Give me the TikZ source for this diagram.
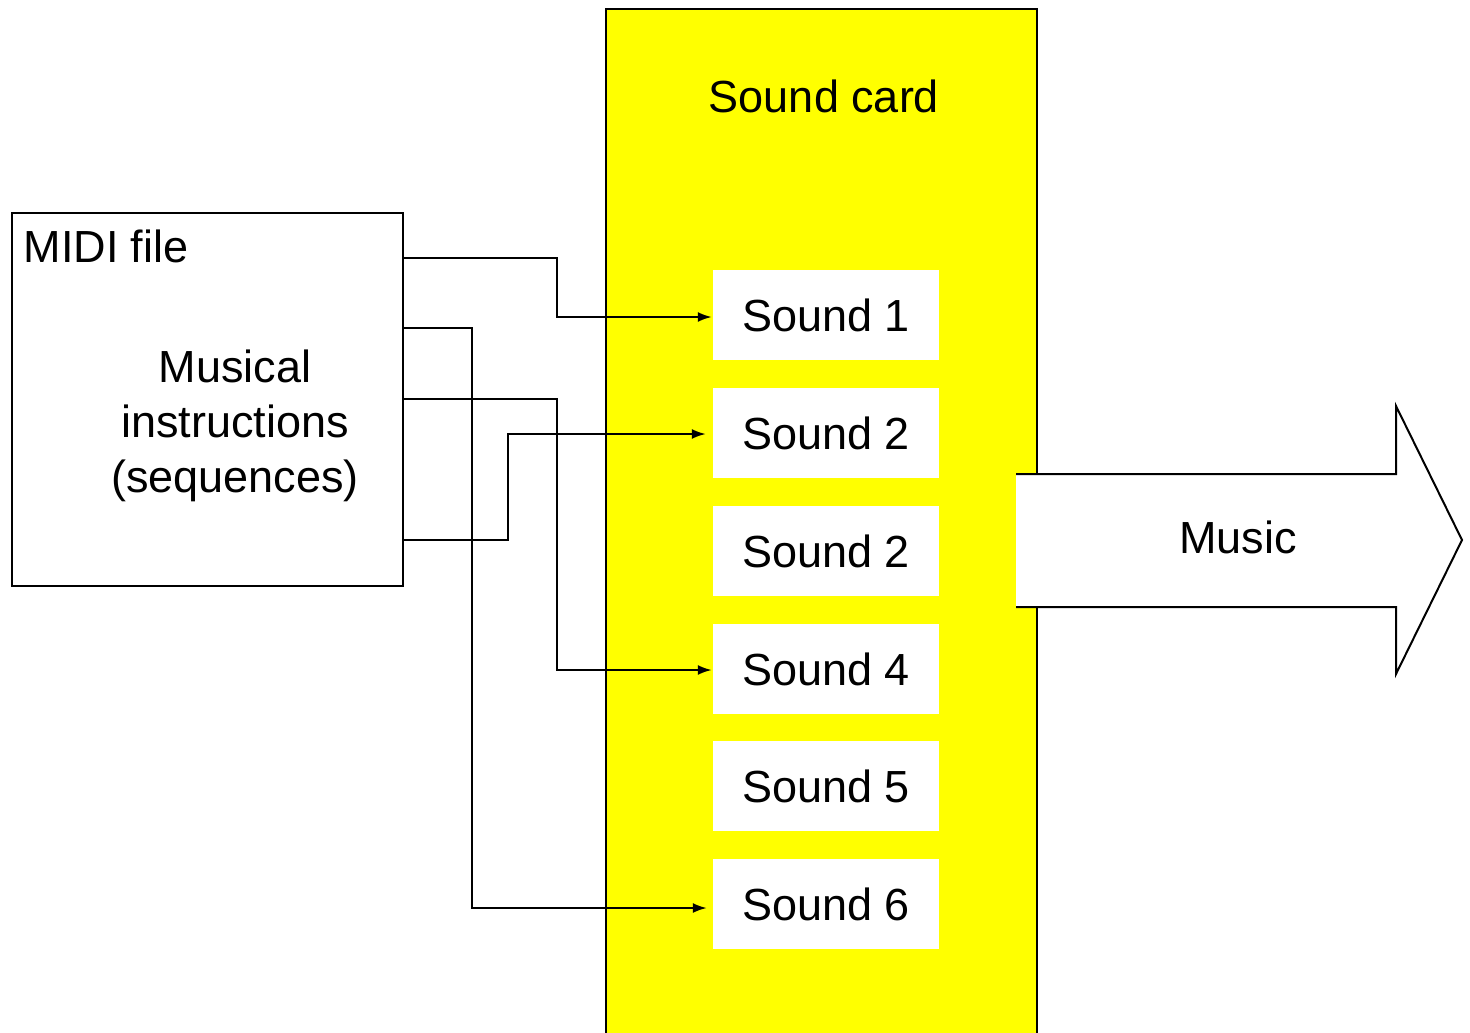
\documentclass[tikz,border=0pt]{standalone}
\usepackage{fontspec}
\setmainfont{Liberation Sans}
\usetikzlibrary{arrows.meta}
\definecolor{cardyellow}{RGB}{255,255,0}
\begin{document}
\begin{tikzpicture}[x=1pt,y=-1pt,
  txt/.style={font=\fontsize{45}{55}\selectfont},
  soundbox/.style={fill=white,minimum width=226pt,minimum height=90pt,inner sep=0pt,txt},
  conn/.style={line width=2pt,-{Latex[length=14pt,width=10pt]}}]
\useasboundingbox (0,0) rectangle (1470,1033);
% sound card
\node[fill=cardyellow,minimum width=431pt,minimum height=1050pt,inner sep=0pt,anchor=north west] (card) at (606,9) {};
\draw[line width=2pt] (card.south west) -- (card.north west) -- (card.north east) -- (card.south east);
\node[txt] (cardlbl) at (824,96) {Sound card};
% sound boxes
\node[soundbox] (s1) at (826,315) {Sound 1};
\node[soundbox] (s2) at (826,433) {Sound 2};
\node[soundbox] (s3) at (826,551) {Sound 2};
\node[soundbox] (s4) at (826,669) {Sound 4};
\node[soundbox] (s5) at (826,786) {Sound 5};
\node[soundbox] (s6) at (826,904) {Sound 6};
% MIDI file
\node[draw,line width=2pt,fill=white,minimum width=391pt,minimum height=373pt,inner sep=0pt,anchor=north west] (midi) at (11,212) {};
\node[txt,anchor=west] (midilbl) at (20,246) {MIDI file};
\node[txt,align=center] (instr) at (235,426) {Musical\\instructions\\(sequences)};
% connector start points on MIDI box edge
\coordinate (o1) at (402,258);
\coordinate (o2) at (402,328);
\coordinate (o3) at (402,399);
\coordinate (o4) at (402,540);
\draw[conn] (o1) -- (557,258) -- (557,317) -- ([xshift=-1pt]s1.west |- 0,317);
\draw[conn] (o2) -- (472,328) -- (472,908) -- ([xshift=-6pt]s6.west |- 0,908);
\draw[conn] (o3) -- (557,399) -- (557,670) -- ([xshift=-1pt]s4.west |- 0,670);
\draw[conn] (o4) -- (508,540) -- (508,434) -- ([xshift=-7pt]s2.west |- 0,434);
% Music arrow
\fill[white] (1016,474) -- (1396,474) -- (1396,406) -- (1462,540) -- (1396,674) -- (1396,607) -- (1016,607) -- cycle;
\draw[line width=2pt,line join=miter] (1016,474) -- (1396,474) -- (1396,406) -- (1462,540) -- (1396,674) -- (1396,607) -- (1016,607);
\node[txt] (music) at (1238,537) {Music};
\end{tikzpicture}
\end{document}
